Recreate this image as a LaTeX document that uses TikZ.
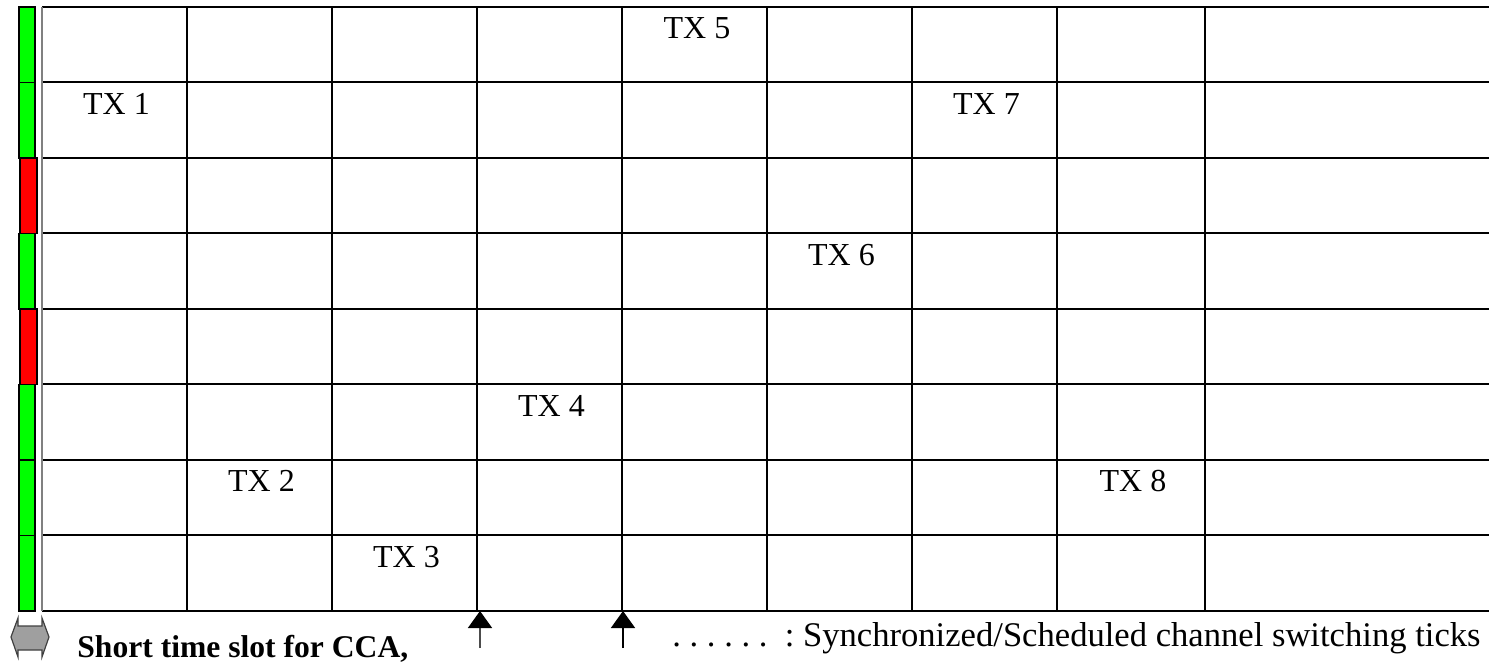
\documentclass[tikz,border=0pt]{standalone}
\usepackage{fontspec}
\setmainfont{Liberation Serif}
\usetikzlibrary{arrows.meta}
\definecolor{slotgreen}{RGB}{0,255,0}
\definecolor{slotred}{RGB}{255,0,0}
\begin{document}
\begin{tikzpicture}[x=0.5pt,y=-0.5pt,
    gridline/.style={line width=1pt},
    slotbar/.style={draw=black,line width=0.6pt},
    txlabel/.style={font=\fontsize{16}{19}\selectfont,inner sep=0pt,anchor=base},
    legend/.style={font=\fontsize{17.3}{20}\selectfont,inner sep=0pt,anchor=base west},
    tick/.style={line width=0.8pt,-{Triangle[width=12pt,length=8.5pt,black]}}]
  \useasboundingbox (0,0) rectangle (1489,662);
  \foreach \y in {7,82.5,158,233.5,309,384.5,460,535.5,611}
    \draw[gridline] (42,\y) -- (1489,\y);
  \foreach \x in {187,332,477,622,767,912,1057,1205}
    \draw[gridline] (\x,7) -- (\x,611);
  \draw[gray,line width=1pt] (42,7) -- (42,611);
  \begin{scope}[fill=slotgreen]
    \foreach \t/\b in {7/82.5,82.5/158,233.5/309,384.5/460,460/535.5,535.5/611}
      \draw[slotbar,fill=slotgreen] (19,\t) rectangle (35,\b);
  \end{scope}
  \begin{scope}[fill=slotred]
    \foreach \t/\b in {158/233.5,309/384.5}
      \draw[slotbar,fill=slotred] (20,\t) rectangle (37,\b);
  \end{scope}
  \node[txlabel] (tx1) at (116.5,114.5) {TX 1};
  \node[txlabel] (tx2) at (261.5,492) {TX 2};
  \node[txlabel] (tx3) at (406.5,567.5) {TX 3};
  \node[txlabel] (tx4) at (551.5,416.5) {TX 4};
  \node[txlabel] (tx5) at (697,39) {TX 5};
  \node[txlabel] (tx6) at (841.5,265.5) {TX 6};
  \node[txlabel] (tx7) at (986.5,114.5) {TX 7};
  \node[txlabel] (tx8) at (1133,492) {TX 8};
  \coordinate (tick1) at (480,611);
  \coordinate (tick2) at (623,611);
  \coordinate (foot1) at (480,648);
  \coordinate (foot2) at (623,648);
  \draw[tick,gray!60!black] (foot1) -- (tick1);
  \draw[tick] (foot2) -- (tick2);
  \draw[fill=gray!75,draw=gray!50!black,line width=0.6pt]
    (11,637) -- (18,618) -- (18,626) -- (42,626) -- (42,618) -- (49,637)
    -- (42,657) -- (42,650) -- (18,650) -- (18,657) -- cycle;
  \node[legend,font=\fontsize{15.8}{19}\selectfont\bfseries] (cca) at (77,657) {Short time slot for CCA,};
  \node[legend] (ticks) at (672,646) {.\ .\ .\ .\ .\ .\ \ :\ Synchronized/Scheduled channel switching ticks};
\end{tikzpicture}
\end{document}
